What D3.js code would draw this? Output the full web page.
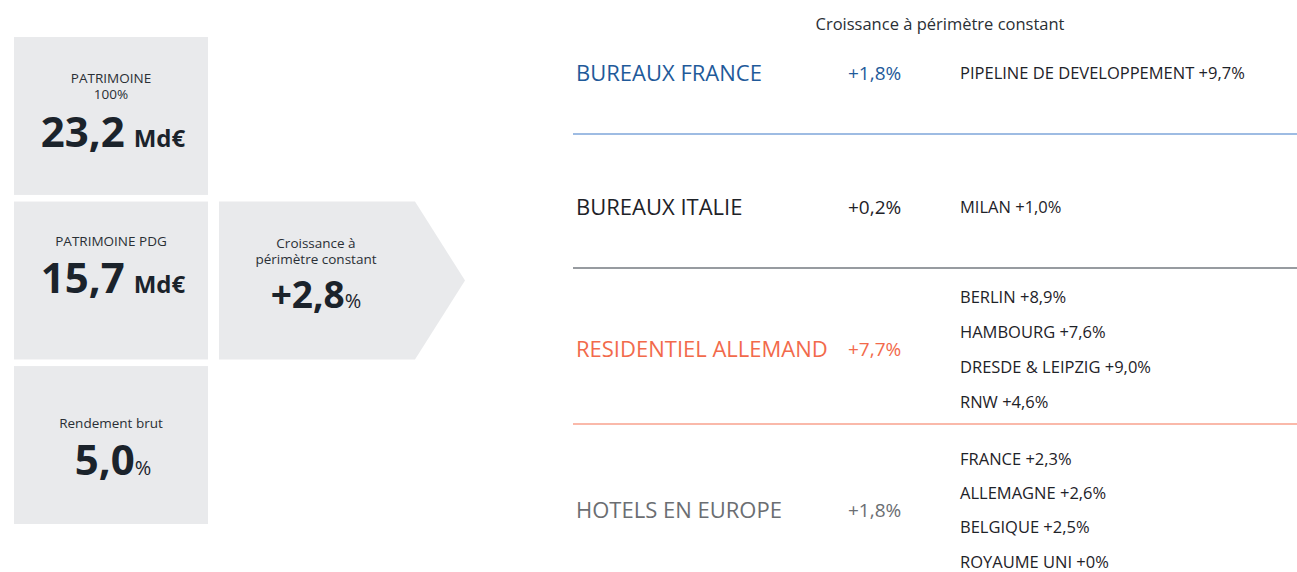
<!DOCTYPE html>
<html>
<head>
<meta charset="utf-8">
<script src="https://d3js.org/d3.v7.min.js"></script>
<style>
  body { margin: 0; background: #fff; }
  text { font-family: "Open Sans", "Noto Sans", sans-serif; }
</style>
</head>
<body>
<svg id="chart"></svg>
<script>
// key figures (left column)
var kpiTitles = [["PATRIMOINE", "100%"], ["PATRIMOINE PDG"], ["Rendement brut"]];
var kpiValues = ["23,2", "15,7", "5,0"];
var kpiUnits = ["Md€", "Md€", "%"];
var totalGrowthTitle = ["Croissance à", "périmètre constant"];
var totalGrowth = "+2,8";

// segments (right side)
var header = "Croissance à périmètre constant";
var segments = ["BUREAUX FRANCE", "BUREAUX ITALIE", "RESIDENTIEL ALLEMAND", "HOTELS EN EUROPE"];
var segmentGrowth = ["+1,8%", "+0,2%", "+7,7%", "+1,8%"];
var segmentDetails = [
  ["PIPELINE DE DEVELOPPEMENT +9,7%"],
  ["MILAN +1,0%"],
  ["BERLIN +8,9%", "HAMBOURG +7,6%", "DRESDE & LEIPZIG +9,0%", "RNW +4,6%"],
  ["FRANCE +2,3%", "ALLEMAGNE +2,6%", "BELGIQUE +2,5%", "ROYAUME UNI +0%"]
];

var w = 1297, h = 572;
var segColor = ["#1f5a9a", "#1e2228", "#f26a4b", "#6b6e72"];
var lineColor = ["#7ea6da", "#757a80", "#f9a28e"];
var dark = "#1b232b";

var svg = d3.select("#chart").attr("width", w).attr("height", h);

// left boxes
var boxY = d3.scaleBand().domain(d3.range(3)).range([37, 524]).paddingInner(0.04);
var boxX = 14, boxW = 194;
var fill = "#e9eaec";
var titleOff = [41, 40, 57];
var valueOff = [110, 91, 109];

var boxes = svg.selectAll("g.kpi").data(kpiValues).enter().append("g")
  .attr("class", "kpi")
  .attr("transform", function (d, i) { return "translate(" + boxX + "," + boxY(i) + ")"; });

boxes.append("rect").attr("width", boxW).attr("height", boxY.bandwidth()).attr("fill", fill);

boxes.each(function (d, i) {
  var g = d3.select(this);
  kpiTitles[i].forEach(function (s, j) {
    g.append("text").attr("x", boxW / 2).attr("y", titleOff[i] + j * 16).attr("dy", "0.35em")
      .attr("text-anchor", "middle").attr("font-size", 13.5).attr("fill", "#2a2f35")
      .text(s);
  });
  var big = g.append("text").attr("x", boxW / 2 + 2).attr("y", valueOff[i])
    .attr("text-anchor", "middle").attr("fill", dark).attr("font-weight", "bold");
  big.append("tspan").attr("font-size", 42).text(d);
  if (kpiUnits[i] === "%") {
    big.append("tspan").attr("font-size", 20).attr("font-weight", "normal").text("%");
  } else {
    big.append("tspan").attr("font-size", 24).attr("dx", 9).text(kpiUnits[i]);
  }
});

// arrow box
var ay = boxY(1), ah = boxY.bandwidth();
var ax = 219, aw = 196, tip = 50;
svg.append("path")
  .attr("d", "M" + ax + "," + ay + "H" + (ax + aw) + "L" + (ax + aw + tip) + "," + (ay + ah / 2) +
    "L" + (ax + aw) + "," + (ay + ah) + "H" + ax + "Z")
  .attr("fill", fill);
totalGrowthTitle.forEach(function (s, j) {
  svg.append("text").attr("x", ax + aw / 2 - 1).attr("y", ay + 42 + j * 16).attr("dy", "0.35em")
    .attr("text-anchor", "middle").attr("font-size", 13.5).attr("fill", "#2a2f35")
    .text(s);
});
var tg = svg.append("text").attr("x", ax + aw / 2 - 1).attr("y", ay + 106)
  .attr("text-anchor", "middle").attr("fill", dark).attr("font-weight", "bold");
tg.append("tspan").attr("font-size", 37).text(totalGrowth);
tg.append("tspan").attr("font-size", 20).attr("font-weight", "normal").text("%");

// right side
svg.append("text").attr("x", 940).attr("y", 24).attr("dy", "0.35em")
  .attr("text-anchor", "middle").attr("font-size", 16.5).attr("fill", "#2a2f35")
  .text(header);

var labelY = [73, 207, 349, 510];
var sepY = [134, 268, 424];
var detailRange = [[73, 73], [207, 207], [297, 402], [459, 562]];

svg.selectAll("line.sep").data(sepY).enter().append("line")
  .attr("class", "sep")
  .attr("x1", 573).attr("x2", w).attr("y1", function (d) { return d; }).attr("y2", function (d) { return d; })
  .attr("stroke", function (d, i) { return lineColor[i]; }).attr("stroke-width", 1.5);

var rows = svg.selectAll("g.seg").data(segments).enter().append("g").attr("class", "seg");

rows.append("text").attr("x", 576).attr("y", function (d, i) { return labelY[i]; }).attr("dy", "0.35em")
  .attr("font-size", 22).attr("fill", function (d, i) { return segColor[i]; })
  .text(function (d) { return d; });

rows.append("text").attr("x", 848).attr("y", function (d, i) { return labelY[i]; }).attr("dy", "0.35em")
  .attr("font-size", 19).attr("fill", function (d, i) { return segColor[i]; })
  .text(function (d, i) { return segmentGrowth[i]; });

rows.each(function (d, i) {
  var y = d3.scalePoint().domain(segmentDetails[i]).range(detailRange[i]);
  d3.select(this).selectAll("text.det").data(segmentDetails[i]).enter().append("text")
    .attr("class", "det").attr("x", 960).attr("y", function (s) { return y(s); }).attr("dy", "0.35em")
    .attr("font-size", 16.5).attr("fill", "#1e2228")
    .text(function (s) { return s; });
});
</script>
</body>
</html>
